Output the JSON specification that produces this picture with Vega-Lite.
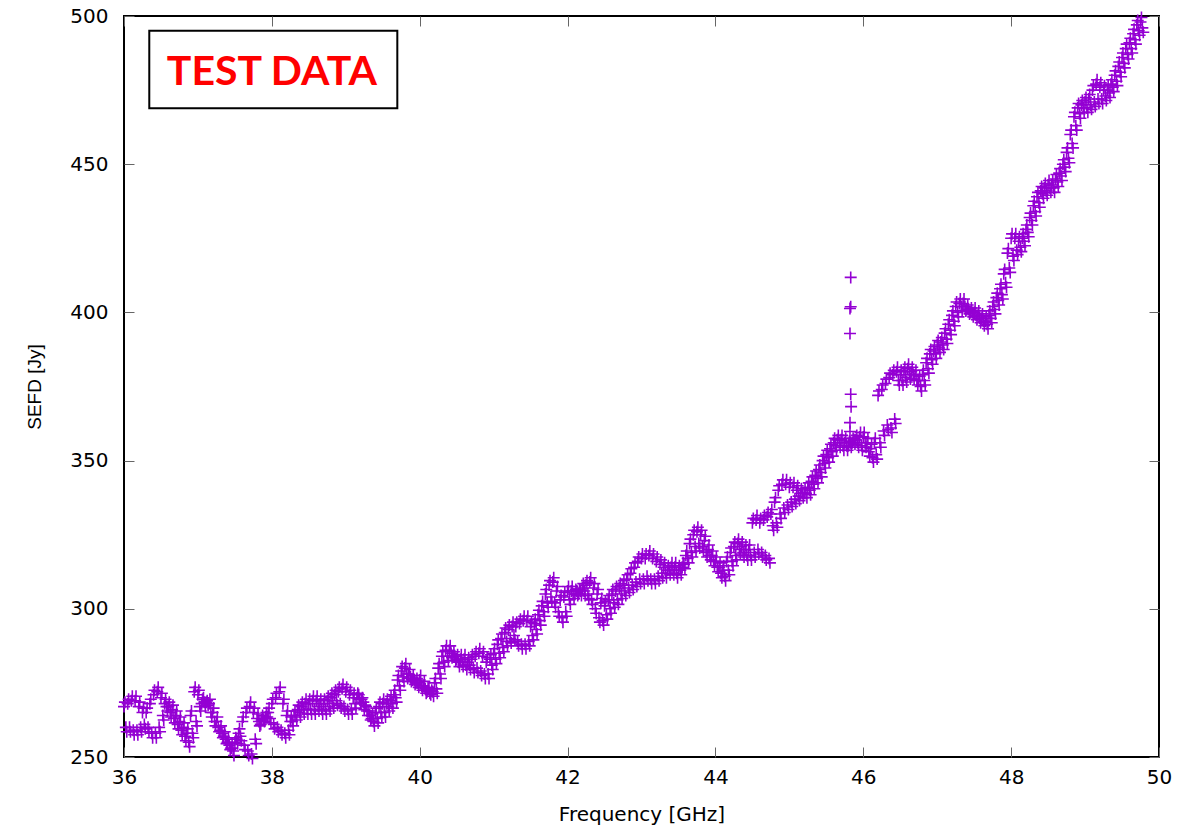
{
"$schema": "https://vega.github.io/schema/vega-lite/v6.json",
"width": 1035,
"height": 741,
"autosize": {"type": "none"},
"padding": {"left": 124, "top": 16, "right": 43, "bottom": 75},
"background": "white",
"config": {"view": {"stroke": "black", "strokeWidth": 2}, "font": "DejaVu Sans"},
"datasets": {
"pts": [
{"f":36.00,"s":267},{"f":36.05,"s":268},{"f":36.10,"s":269},{"f":36.15,"s":269},{"f":36.20,"s":267},{"f":36.25,"s":265},{"f":36.30,"s":265},{"f":36.35,"s":268},{"f":36.40,"s":271},{"f":36.45,"s":272},
{"f":36.50,"s":270},{"f":36.55,"s":268},{"f":36.60,"s":267},{"f":36.65,"s":266},{"f":36.70,"s":264},{"f":36.75,"s":262},{"f":36.80,"s":260},{"f":36.85,"s":258},{"f":36.90,"s":264},{"f":36.95,"s":272},
{"f":37.00,"s":271},{"f":37.05,"s":268},{"f":37.10,"s":267},{"f":37.15,"s":268},{"f":37.20,"s":265},{"f":37.25,"s":262},{"f":37.30,"s":259},{"f":37.35,"s":257},{"f":37.40,"s":255},{"f":37.45,"s":253},
{"f":37.50,"s":255},{"f":37.55,"s":258},{"f":37.60,"s":262},{"f":37.65,"s":265},{"f":37.70,"s":267},{"f":37.75,"s":265},{"f":37.80,"s":263},{"f":37.85,"s":261},{"f":37.90,"s":262},{"f":37.95,"s":265},
{"f":38.00,"s":268},{"f":38.05,"s":270},{"f":38.10,"s":272},{"f":38.15,"s":268},{"f":38.20,"s":264},{"f":38.25,"s":262},{"f":38.30,"s":264},{"f":38.35,"s":266},{"f":38.40,"s":267},{"f":38.45,"s":268},
{"f":38.50,"s":268},{"f":38.55,"s":269},{"f":38.60,"s":269},{"f":38.65,"s":268},{"f":38.70,"s":268},{"f":38.75,"s":269},{"f":38.80,"s":270},{"f":38.85,"s":271},{"f":38.90,"s":272},{"f":38.95,"s":273},
{"f":39.00,"s":272},{"f":39.05,"s":271},{"f":39.10,"s":270},{"f":39.15,"s":270},{"f":39.20,"s":268},{"f":39.25,"s":266},{"f":39.30,"s":264},{"f":39.35,"s":263},{"f":39.40,"s":265},{"f":39.45,"s":267},
{"f":39.50,"s":268},{"f":39.55,"s":268},{"f":39.60,"s":269},{"f":39.65,"s":271},{"f":39.70,"s":276},{"f":39.75,"s":279},{"f":39.80,"s":280},{"f":39.85,"s":278},{"f":39.90,"s":276},{"f":39.95,"s":275},
{"f":40.00,"s":276},{"f":40.05,"s":274},{"f":40.10,"s":272},{"f":40.15,"s":271},{"f":40.20,"s":275},{"f":40.25,"s":280},{"f":40.30,"s":284},{"f":40.35,"s":286},{"f":40.40,"s":286},{"f":40.45,"s":284},
{"f":40.50,"s":283},{"f":40.55,"s":283},{"f":40.60,"s":283},{"f":40.65,"s":282},{"f":40.70,"s":283},{"f":40.75,"s":284},{"f":40.80,"s":285},{"f":40.85,"s":284},{"f":40.90,"s":282},{"f":40.95,"s":283},
{"f":41.00,"s":285},{"f":41.05,"s":288},{"f":41.10,"s":290},{"f":41.15,"s":292},{"f":41.20,"s":293},{"f":41.25,"s":294},{"f":41.30,"s":294},{"f":41.35,"s":295},{"f":41.40,"s":296},{"f":41.45,"s":296},
{"f":41.50,"s":294},{"f":41.55,"s":295},{"f":41.60,"s":298},{"f":41.65,"s":301},{"f":41.70,"s":305},{"f":41.75,"s":308},{"f":41.80,"s":309},{"f":41.85,"s":306},{"f":41.90,"s":303},{"f":41.95,"s":304},
{"f":42.00,"s":306},{"f":42.05,"s":306},{"f":42.10,"s":305},{"f":42.15,"s":305},{"f":42.20,"s":307},{"f":42.25,"s":308},{"f":42.30,"s":309},{"f":42.35,"s":307},{"f":42.40,"s":305},{"f":42.45,"s":302},
{"f":42.50,"s":301},{"f":42.55,"s":303},{"f":42.60,"s":305},{"f":42.65,"s":306},{"f":42.70,"s":307},{"f":42.75,"s":308},{"f":42.80,"s":310},{"f":42.85,"s":312},{"f":42.90,"s":314},{"f":42.95,"s":316},
{"f":43.00,"s":317},{"f":43.05,"s":317},{"f":43.10,"s":318},{"f":43.15,"s":317},{"f":43.20,"s":316},{"f":43.25,"s":315},{"f":43.30,"s":314},{"f":43.35,"s":313},{"f":43.40,"s":314},{"f":43.45,"s":314},
{"f":43.50,"s":313},{"f":43.55,"s":314},{"f":43.60,"s":318},{"f":43.65,"s":322},{"f":43.70,"s":325},{"f":43.75,"s":326},{"f":43.80,"s":325},{"f":43.85,"s":323},{"f":43.90,"s":320},{"f":43.95,"s":318},
{"f":44.00,"s":316},{"f":44.05,"s":314},{"f":44.10,"s":313},{"f":44.15,"s":316},{"f":44.20,"s":319},{"f":44.25,"s":321},{"f":44.30,"s":322},{"f":44.35,"s":321},{"f":44.40,"s":320},{"f":44.45,"s":320},
{"f":44.50,"s":329},{"f":44.55,"s":330},{"f":44.60,"s":329},{"f":44.65,"s":330},{"f":44.70,"s":331},{"f":44.75,"s":332},{"f":44.80,"s":336},{"f":44.85,"s":340},{"f":44.90,"s":342},{"f":44.95,"s":342},
{"f":45.00,"s":341},{"f":45.05,"s":341},{"f":45.10,"s":340},{"f":45.15,"s":339},{"f":45.20,"s":339},{"f":45.25,"s":341},{"f":45.30,"s":343},{"f":45.35,"s":345},{"f":45.40,"s":347},{"f":45.45,"s":350},
{"f":45.50,"s":352},{"f":45.55,"s":354},{"f":45.60,"s":356},{"f":45.65,"s":357},{"f":45.70,"s":357},{"f":45.75,"s":356},{"f":45.80,"s":355},{"f":45.85,"s":356},{"f":45.90,"s":357},{"f":45.95,"s":358},
{"f":46.00,"s":358},{"f":46.05,"s":356},{"f":46.10,"s":354},{"f":46.15,"s":356},{"f":46.20,"s":372},{"f":46.25,"s":374},{"f":46.30,"s":376},{"f":46.35,"s":378},{"f":46.40,"s":379},{"f":46.45,"s":380},
{"f":46.50,"s":379},{"f":46.55,"s":380},{"f":46.60,"s":381},{"f":46.65,"s":380},{"f":46.70,"s":379},{"f":46.75,"s":377},{"f":46.80,"s":379},{"f":46.85,"s":383},{"f":46.90,"s":386},{"f":46.95,"s":387},
{"f":47.00,"s":389},{"f":47.05,"s":390},{"f":47.10,"s":393},{"f":47.15,"s":396},{"f":47.20,"s":399},{"f":47.25,"s":402},{"f":47.30,"s":403},{"f":47.35,"s":403},{"f":47.40,"s":401},{"f":47.45,"s":400},
{"f":47.50,"s":400},{"f":47.55,"s":399},{"f":47.60,"s":398},{"f":47.65,"s":397},{"f":47.70,"s":399},{"f":47.75,"s":402},{"f":47.80,"s":405},{"f":47.85,"s":408},{"f":47.90,"s":413},{"f":47.95,"s":420},
{"f":48.00,"s":425},{"f":48.05,"s":425},{"f":48.10,"s":424},{"f":48.15,"s":425},{"f":48.20,"s":428},{"f":48.25,"s":432},{"f":48.30,"s":436},{"f":48.35,"s":439},{"f":48.40,"s":441},{"f":48.45,"s":442},
{"f":48.50,"s":443},{"f":48.55,"s":443},{"f":48.60,"s":445},{"f":48.65,"s":447},{"f":48.70,"s":450},{"f":48.75,"s":454},{"f":48.80,"s":460},{"f":48.85,"s":466},{"f":48.90,"s":469},{"f":48.95,"s":470},
{"f":49.00,"s":471},{"f":49.05,"s":472},{"f":49.10,"s":475},{"f":49.15,"s":477},{"f":49.20,"s":476},{"f":49.25,"s":475},{"f":49.30,"s":475},{"f":49.35,"s":477},{"f":49.40,"s":480},{"f":49.45,"s":483},
{"f":49.50,"s":486},{"f":49.55,"s":489},{"f":49.60,"s":491},{"f":49.65,"s":494},{"f":49.70,"s":497},{"f":49.75,"s":498},
{"f":36.025,"s":260},{"f":36.075,"s":260},{"f":36.125,"s":259},{"f":36.175,"s":259},{"f":36.225,"s":260},{"f":36.275,"s":261},{"f":36.325,"s":260},{"f":36.375,"s":258},{"f":36.425,"s":258},{"f":36.475,"s":260},
{"f":36.525,"s":264},{"f":36.575,"s":267},{"f":36.625,"s":265},{"f":36.675,"s":263},{"f":36.725,"s":261},{"f":36.775,"s":259},{"f":36.825,"s":257},{"f":36.875,"s":255},{"f":36.925,"s":258},{"f":36.975,"s":262},
{"f":37.025,"s":267},{"f":37.075,"s":270},{"f":37.125,"s":269},{"f":37.175,"s":265},{"f":37.225,"s":262},{"f":37.275,"s":260},{"f":37.325,"s":258},{"f":37.375,"s":256},{"f":37.425,"s":254},{"f":37.475,"s":252},
{"f":37.525,"s":256},{"f":37.575,"s":257},{"f":37.625,"s":254},{"f":37.675,"s":252},{"f":37.725,"s":251},{"f":37.775,"s":256},{"f":37.825,"s":262},{"f":37.875,"s":264},{"f":37.925,"s":265},{"f":37.975,"s":263},
{"f":38.025,"s":261},{"f":38.075,"s":260},{"f":38.125,"s":259},{"f":38.175,"s":258},{"f":38.225,"s":259},{"f":38.275,"s":262},{"f":38.325,"s":264},{"f":38.375,"s":265},{"f":38.425,"s":266},{"f":38.475,"s":266},
{"f":38.525,"s":266},{"f":38.575,"s":266},{"f":38.625,"s":267},{"f":38.675,"s":266},{"f":38.725,"s":266},{"f":38.775,"s":267},{"f":38.825,"s":268},{"f":38.875,"s":269},{"f":38.925,"s":268},{"f":38.975,"s":267},
{"f":39.025,"s":266},{"f":39.075,"s":266},{"f":39.125,"s":268},{"f":39.175,"s":271},{"f":39.225,"s":270},{"f":39.275,"s":267},{"f":39.325,"s":264},{"f":39.375,"s":262},{"f":39.425,"s":263},{"f":39.475,"s":265},
{"f":39.525,"s":265},{"f":39.575,"s":267},{"f":39.625,"s":268},{"f":39.675,"s":270},{"f":39.725,"s":274},{"f":39.775,"s":277},{"f":39.825,"s":278},{"f":39.875,"s":277},{"f":39.925,"s":276},{"f":39.975,"s":275},
{"f":40.025,"s":274},{"f":40.075,"s":273},{"f":40.125,"s":273},{"f":40.175,"s":272},{"f":40.225,"s":273},{"f":40.275,"s":278},{"f":40.325,"s":282},{"f":40.375,"s":284},{"f":40.425,"s":285},{"f":40.475,"s":284},
{"f":40.525,"s":282},{"f":40.575,"s":282},{"f":40.625,"s":281},{"f":40.675,"s":281},{"f":40.725,"s":280},{"f":40.775,"s":280},{"f":40.825,"s":279},{"f":40.875,"s":278},{"f":40.925,"s":278},{"f":40.975,"s":281},
{"f":41.025,"s":283},{"f":41.075,"s":285},{"f":41.125,"s":287},{"f":41.175,"s":289},{"f":41.225,"s":290},{"f":41.275,"s":291},{"f":41.325,"s":289},{"f":41.375,"s":288},{"f":41.425,"s":288},{"f":41.475,"s":289},
{"f":41.525,"s":291},{"f":41.575,"s":293},{"f":41.625,"s":296},{"f":41.675,"s":299},{"f":41.725,"s":302},{"f":41.775,"s":304},{"f":41.825,"s":302},{"f":41.875,"s":299},{"f":41.925,"s":297},{"f":41.975,"s":299},
{"f":42.025,"s":303},{"f":42.075,"s":305},{"f":42.125,"s":306},{"f":42.175,"s":306},{"f":42.225,"s":306},{"f":42.275,"s":305},{"f":42.325,"s":303},{"f":42.375,"s":300},{"f":42.425,"s":297},{"f":42.475,"s":296},
{"f":42.525,"s":298},{"f":42.575,"s":300},{"f":42.625,"s":302},{"f":42.675,"s":303},{"f":42.725,"s":305},{"f":42.775,"s":306},{"f":42.825,"s":307},{"f":42.875,"s":308},{"f":42.925,"s":309},{"f":42.975,"s":310},
{"f":43.025,"s":310},{"f":43.075,"s":311},{"f":43.125,"s":310},{"f":43.175,"s":310},{"f":43.225,"s":311},{"f":43.275,"s":312},{"f":43.325,"s":312},{"f":43.375,"s":313},{"f":43.425,"s":313},{"f":43.475,"s":312},
{"f":43.525,"s":313},{"f":43.575,"s":315},{"f":43.625,"s":317},{"f":43.675,"s":319},{"f":43.725,"s":321},{"f":43.775,"s":322},{"f":43.825,"s":321},{"f":43.875,"s":319},{"f":43.925,"s":318},{"f":43.975,"s":316},
{"f":44.025,"s":314},{"f":44.075,"s":312},{"f":44.125,"s":311},{"f":44.175,"s":313},{"f":44.225,"s":316},{"f":44.275,"s":318},{"f":44.325,"s":320},{"f":44.375,"s":319},{"f":44.425,"s":318},{"f":44.475,"s":318},
{"f":44.525,"s":319},{"f":44.575,"s":320},{"f":44.625,"s":319},{"f":44.675,"s":318},{"f":44.725,"s":317},{"f":44.775,"s":328},{"f":44.825,"s":329},{"f":44.875,"s":332},{"f":44.925,"s":334},{"f":44.975,"s":335},
{"f":45.025,"s":336},{"f":45.075,"s":337},{"f":45.125,"s":338},{"f":45.175,"s":339},{"f":45.225,"s":339},{"f":45.275,"s":340},{"f":45.325,"s":342},{"f":45.375,"s":344},{"f":45.425,"s":346},{"f":45.475,"s":349},
{"f":45.525,"s":351},{"f":45.575,"s":353},{"f":45.625,"s":355},{"f":45.675,"s":356},{"f":45.725,"s":355},{"f":45.775,"s":355},{"f":45.825,"s":356},{"f":45.875,"s":357},{"f":45.925,"s":356},{"f":45.975,"s":355},
{"f":46.025,"s":356},{"f":46.075,"s":353},{"f":46.125,"s":351},{"f":46.175,"s":352},{"f":46.225,"s":356},{"f":46.275,"s":360},{"f":46.325,"s":362},{"f":46.375,"s":361},{"f":46.425,"s":364},{"f":46.475,"s":377},
{"f":46.525,"s":377},{"f":46.575,"s":378},{"f":46.625,"s":379},{"f":46.675,"s":379},{"f":46.725,"s":377},{"f":46.775,"s":375},{"f":46.825,"s":377},{"f":46.875,"s":381},{"f":46.925,"s":384},{"f":46.975,"s":386},
{"f":47.025,"s":388},{"f":47.075,"s":389},{"f":47.125,"s":391},{"f":47.175,"s":394},{"f":47.225,"s":397},{"f":47.275,"s":400},{"f":47.325,"s":402},{"f":47.375,"s":402},{"f":47.425,"s":401},{"f":47.475,"s":400},
{"f":47.525,"s":399},{"f":47.575,"s":398},{"f":47.625,"s":397},{"f":47.675,"s":396},{"f":47.725,"s":398},{"f":47.775,"s":401},{"f":47.825,"s":404},{"f":47.875,"s":406},{"f":47.925,"s":410},{"f":47.975,"s":415},
{"f":48.025,"s":419},{"f":48.075,"s":421},{"f":48.125,"s":422},{"f":48.175,"s":424},{"f":48.225,"s":427},{"f":48.275,"s":431},{"f":48.325,"s":434},{"f":48.375,"s":437},{"f":48.425,"s":440},{"f":48.475,"s":441},
{"f":48.525,"s":442},{"f":48.575,"s":442},{"f":48.625,"s":444},{"f":48.675,"s":446},{"f":48.725,"s":449},{"f":48.775,"s":452},{"f":48.825,"s":457},{"f":48.875,"s":463},{"f":48.925,"s":467},{"f":48.975,"s":469},
{"f":49.025,"s":469},{"f":49.075,"s":470},{"f":49.125,"s":471},{"f":49.175,"s":472},{"f":49.225,"s":472},{"f":49.275,"s":473},{"f":49.325,"s":474},{"f":49.375,"s":476},{"f":49.425,"s":478},{"f":49.475,"s":481},
{"f":49.525,"s":484},{"f":49.575,"s":487},{"f":49.625,"s":489},{"f":49.675,"s":492},{"f":49.725,"s":495},{"f":49.775,"s":496},
{"f":36.0125,"s":268.5},{"f":36.0625,"s":269.5},{"f":36.1125,"s":270.5},{"f":36.1625,"s":270.5},{"f":36.2125,"s":268.5},{"f":36.2625,"s":266.5},{"f":36.3125,"s":266.5},{"f":36.3625,"s":269.5},{"f":36.4125,"s":272.5},{"f":36.4625,"s":273.5},
{"f":36.5125,"s":271.5},{"f":36.5625,"s":269.5},{"f":36.6125,"s":268.5},{"f":36.6625,"s":267.5},{"f":36.7125,"s":265.5},{"f":36.7625,"s":263.5},{"f":36.8125,"s":261.5},{"f":36.8625,"s":259.5},{"f":36.9125,"s":265.5},{"f":36.9625,"s":273.5},
{"f":37.0125,"s":272.5},{"f":37.0625,"s":269.5},{"f":37.1125,"s":268.5},{"f":37.1625,"s":269.5},{"f":37.2125,"s":266.5},{"f":37.2625,"s":263.5},{"f":37.3125,"s":260.5},{"f":37.3625,"s":258.5},{"f":37.4125,"s":256.5},{"f":37.4625,"s":254.5},
{"f":37.5125,"s":256.5},{"f":37.5625,"s":259.5},{"f":37.6125,"s":263.5},{"f":37.6625,"s":266.5},{"f":37.7125,"s":268.5},{"f":37.7625,"s":266.5},{"f":37.8125,"s":264.5},{"f":37.8625,"s":262.5},{"f":37.9125,"s":263.5},{"f":37.9625,"s":266.5},
{"f":38.0125,"s":269.5},{"f":38.0625,"s":271.5},{"f":38.1125,"s":273.5},{"f":38.1625,"s":269.5},{"f":38.2125,"s":265.5},{"f":38.2625,"s":263.5},{"f":38.3125,"s":265.5},{"f":38.3625,"s":267.5},{"f":38.4125,"s":268.5},{"f":38.4625,"s":269.5},
{"f":38.5125,"s":269.5},{"f":38.5625,"s":270.5},{"f":38.6125,"s":270.5},{"f":38.6625,"s":269.5},{"f":38.7125,"s":269.5},{"f":38.7625,"s":270.5},{"f":38.8125,"s":271.5},{"f":38.8625,"s":272.5},{"f":38.9125,"s":273.5},{"f":38.9625,"s":274.5},
{"f":39.0125,"s":273.5},{"f":39.0625,"s":272.5},{"f":39.1125,"s":271.5},{"f":39.1625,"s":271.5},{"f":39.2125,"s":269.5},{"f":39.2625,"s":267.5},{"f":39.3125,"s":265.5},{"f":39.3625,"s":264.5},{"f":39.4125,"s":266.5},{"f":39.4625,"s":268.5},
{"f":39.5125,"s":269.5},{"f":39.5625,"s":269.5},{"f":39.6125,"s":270.5},{"f":39.6625,"s":272.5},{"f":39.7125,"s":277.5},{"f":39.7625,"s":280.5},{"f":39.8125,"s":281.5},{"f":39.8625,"s":279.5},{"f":39.9125,"s":277.5},{"f":39.9625,"s":276.5},
{"f":40.0125,"s":277.5},{"f":40.0625,"s":275.5},{"f":40.1125,"s":273.5},{"f":40.1625,"s":272.5},{"f":40.2125,"s":276.5},{"f":40.2625,"s":281.5},{"f":40.3125,"s":285.5},{"f":40.3625,"s":287.5},{"f":40.4125,"s":287.5},{"f":40.4625,"s":285.5},
{"f":40.5125,"s":284.5},{"f":40.5625,"s":284.5},{"f":40.6125,"s":284.5},{"f":40.6625,"s":283.5},{"f":40.7125,"s":284.5},{"f":40.7625,"s":285.5},{"f":40.8125,"s":286.5},{"f":40.8625,"s":285.5},{"f":40.9125,"s":283.5},{"f":40.9625,"s":284.5},
{"f":41.0125,"s":286.5},{"f":41.0625,"s":289.5},{"f":41.1125,"s":291.5},{"f":41.1625,"s":293.5},{"f":41.2125,"s":294.5},{"f":41.2625,"s":295.5},{"f":41.3125,"s":295.5},{"f":41.3625,"s":296.5},{"f":41.4125,"s":297.5},{"f":41.4625,"s":297.5},
{"f":41.5125,"s":295.5},{"f":41.5625,"s":296.5},{"f":41.6125,"s":299.5},{"f":41.6625,"s":302.5},{"f":41.7125,"s":306.5},{"f":41.7625,"s":309.5},{"f":41.8125,"s":310.5},{"f":41.8625,"s":307.5},{"f":41.9125,"s":304.5},{"f":41.9625,"s":305.5},
{"f":42.0125,"s":307.5},{"f":42.0625,"s":307.5},{"f":42.1125,"s":306.5},{"f":42.1625,"s":306.5},{"f":42.2125,"s":308.5},{"f":42.2625,"s":309.5},{"f":42.3125,"s":310.5},{"f":42.3625,"s":308.5},{"f":42.4125,"s":306.5},{"f":42.4625,"s":303.5},
{"f":42.5125,"s":302.5},{"f":42.5625,"s":304.5},{"f":42.6125,"s":306.5},{"f":42.6625,"s":307.5},{"f":42.7125,"s":308.5},{"f":42.7625,"s":309.5},{"f":42.8125,"s":311.5},{"f":42.8625,"s":313.5},{"f":42.9125,"s":315.5},{"f":42.9625,"s":317.5},
{"f":43.0125,"s":318.5},{"f":43.0625,"s":318.5},{"f":43.1125,"s":319.5},{"f":43.1625,"s":318.5},{"f":43.2125,"s":317.5},{"f":43.2625,"s":316.5},{"f":43.3125,"s":315.5},{"f":43.3625,"s":314.5},{"f":43.4125,"s":315.5},{"f":43.4625,"s":315.5},
{"f":43.5125,"s":314.5},{"f":43.5625,"s":315.5},{"f":43.6125,"s":319.5},{"f":43.6625,"s":323.5},{"f":43.7125,"s":326.5},{"f":43.7625,"s":327.5},{"f":43.8125,"s":326.5},{"f":43.8625,"s":324.5},{"f":43.9125,"s":321.5},{"f":43.9625,"s":319.5},
{"f":44.0125,"s":317.5},{"f":44.0625,"s":315.5},{"f":44.1125,"s":314.5},{"f":44.1625,"s":317.5},{"f":44.2125,"s":320.5},{"f":44.2625,"s":322.5},{"f":44.3125,"s":323.5},{"f":44.3625,"s":322.5},{"f":44.4125,"s":321.5},{"f":44.4625,"s":321.5},
{"f":44.5125,"s":330.5},{"f":44.5625,"s":331.5},{"f":44.6125,"s":330.5},{"f":44.6625,"s":331.5},{"f":44.7125,"s":332.5},{"f":44.7625,"s":333.5},{"f":44.8125,"s":337.5},{"f":44.8625,"s":341.5},{"f":44.9125,"s":343.5},{"f":44.9625,"s":343.5},
{"f":45.0125,"s":342.5},{"f":45.0625,"s":342.5},{"f":45.1125,"s":341.5},{"f":45.1625,"s":340.5},{"f":45.2125,"s":340.5},{"f":45.2625,"s":342.5},{"f":45.3125,"s":344.5},{"f":45.3625,"s":346.5},{"f":45.4125,"s":348.5},{"f":45.4625,"s":351.5},
{"f":45.5125,"s":353.5},{"f":45.5625,"s":355.5},{"f":45.6125,"s":357.5},{"f":45.6625,"s":358.5},{"f":45.7125,"s":358.5},{"f":45.7625,"s":357.5},{"f":45.8125,"s":356.5},{"f":45.8625,"s":357.5},{"f":45.9125,"s":358.5},{"f":45.9625,"s":359.5},
{"f":46.0125,"s":359.5},{"f":46.0625,"s":357.5},{"f":46.1125,"s":355.5},{"f":46.1625,"s":357.5},{"f":46.2125,"s":373.5},{"f":46.2625,"s":375.5},{"f":46.3125,"s":377.5},{"f":46.3625,"s":379.5},{"f":46.4125,"s":380.5},{"f":46.4625,"s":381.5},
{"f":46.5125,"s":380.5},{"f":46.5625,"s":381.5},{"f":46.6125,"s":382.5},{"f":46.6625,"s":381.5},{"f":46.7125,"s":380.5},{"f":46.7625,"s":378.5},{"f":46.8125,"s":380.5},{"f":46.8625,"s":384.5},{"f":46.9125,"s":387.5},{"f":46.9625,"s":388.5},
{"f":47.0125,"s":390.5},{"f":47.0625,"s":391.5},{"f":47.1125,"s":394.5},{"f":47.1625,"s":397.5},{"f":47.2125,"s":400.5},{"f":47.2625,"s":403.5},{"f":47.3125,"s":404.5},{"f":47.3625,"s":404.5},{"f":47.4125,"s":402.5},{"f":47.4625,"s":401.5},
{"f":47.5125,"s":401.5},{"f":47.5625,"s":400.5},{"f":47.6125,"s":399.5},{"f":47.6625,"s":398.5},{"f":47.7125,"s":400.5},{"f":47.7625,"s":403.5},{"f":47.8125,"s":406.5},{"f":47.8625,"s":409.5},{"f":47.9125,"s":414.5},{"f":47.9625,"s":421.5},
{"f":48.0125,"s":426.5},{"f":48.0625,"s":426.5},{"f":48.1125,"s":425.5},{"f":48.1625,"s":426.5},{"f":48.2125,"s":429.5},{"f":48.2625,"s":433.5},{"f":48.3125,"s":437.5},{"f":48.3625,"s":440.5},{"f":48.4125,"s":442.5},{"f":48.4625,"s":443.5},
{"f":48.5125,"s":444.5},{"f":48.5625,"s":444.5},{"f":48.6125,"s":446.5},{"f":48.6625,"s":448.5},{"f":48.7125,"s":451.5},{"f":48.7625,"s":455.5},{"f":48.8125,"s":461.5},{"f":48.8625,"s":467.5},{"f":48.9125,"s":470.5},{"f":48.9625,"s":471.5},
{"f":49.0125,"s":472.5},{"f":49.0625,"s":473.5},{"f":49.1125,"s":476.5},{"f":49.1625,"s":478.5},{"f":49.2125,"s":477.5},{"f":49.2625,"s":476.5},{"f":49.3125,"s":476.5},{"f":49.3625,"s":478.5},{"f":49.4125,"s":481.5},{"f":49.4625,"s":484.5},
{"f":49.5125,"s":487.5},{"f":49.5625,"s":490.5},{"f":49.6125,"s":492.5},{"f":49.6625,"s":495.5},{"f":49.7125,"s":498.5},{"f":49.7625,"s":499.5},
{"f":36.0375,"s":258.5},{"f":36.0875,"s":258.5},{"f":36.1375,"s":257.5},{"f":36.1875,"s":257.5},{"f":36.2375,"s":258.5},{"f":36.2875,"s":259.5},{"f":36.3375,"s":258.5},{"f":36.3875,"s":256.5},{"f":36.4375,"s":256.5},{"f":36.4875,"s":258.5},
{"f":36.5375,"s":262.5},{"f":36.5875,"s":265.5},{"f":36.6375,"s":263.5},{"f":36.6875,"s":261.5},{"f":36.7375,"s":259.5},{"f":36.7875,"s":257.5},{"f":36.8375,"s":255.5},{"f":36.8875,"s":253.5},{"f":36.9375,"s":256.5},{"f":36.9875,"s":260.5},
{"f":37.0375,"s":265.5},{"f":37.0875,"s":268.5},{"f":37.1375,"s":267.5},{"f":37.1875,"s":263.5},{"f":37.2375,"s":260.5},{"f":37.2875,"s":258.5},{"f":37.3375,"s":256.5},{"f":37.3875,"s":254.5},{"f":37.4375,"s":252.5},{"f":37.4875,"s":250.5},
{"f":37.5375,"s":254.5},{"f":37.5875,"s":255.5},{"f":37.6375,"s":252.5},{"f":37.6875,"s":250.5},{"f":37.7375,"s":249.5},{"f":37.7875,"s":254.5},{"f":37.8375,"s":260.5},{"f":37.8875,"s":262.5},{"f":37.9375,"s":263.5},{"f":37.9875,"s":261.5},
{"f":38.0375,"s":259.5},{"f":38.0875,"s":258.5},{"f":38.1375,"s":257.5},{"f":38.1875,"s":256.5},{"f":38.2375,"s":257.5},{"f":38.2875,"s":260.5},{"f":38.3375,"s":262.5},{"f":38.3875,"s":263.5},{"f":38.4375,"s":264.5},{"f":38.4875,"s":264.5},
{"f":38.5375,"s":264.5},{"f":38.5875,"s":264.5},{"f":38.6375,"s":265.5},{"f":38.6875,"s":264.5},{"f":38.7375,"s":264.5},{"f":38.7875,"s":265.5},{"f":38.8375,"s":266.5},{"f":38.8875,"s":267.5},{"f":38.9375,"s":266.5},{"f":38.9875,"s":265.5},
{"f":39.0375,"s":264.5},{"f":39.0875,"s":264.5},{"f":39.1375,"s":266.5},{"f":39.1875,"s":269.5},{"f":39.2375,"s":268.5},{"f":39.2875,"s":265.5},{"f":39.3375,"s":262.5},{"f":39.3875,"s":260.5},{"f":39.4375,"s":261.5},{"f":39.4875,"s":263.5},
{"f":39.5375,"s":263.5},{"f":39.5875,"s":265.5},{"f":39.6375,"s":266.5},{"f":39.6875,"s":268.5},{"f":39.7375,"s":272.5},{"f":39.7875,"s":275.5},{"f":39.8375,"s":276.5},{"f":39.8875,"s":275.5},{"f":39.9375,"s":274.5},{"f":39.9875,"s":273.5},
{"f":40.0375,"s":272.5},{"f":40.0875,"s":271.5},{"f":40.1375,"s":271.5},{"f":40.1875,"s":270.5},{"f":40.2375,"s":271.5},{"f":40.2875,"s":276.5},{"f":40.3375,"s":280.5},{"f":40.3875,"s":282.5},{"f":40.4375,"s":283.5},{"f":40.4875,"s":282.5},
{"f":40.5375,"s":280.5},{"f":40.5875,"s":280.5},{"f":40.6375,"s":279.5},{"f":40.6875,"s":279.5},{"f":40.7375,"s":278.5},{"f":40.7875,"s":278.5},{"f":40.8375,"s":277.5},{"f":40.8875,"s":276.5},{"f":40.9375,"s":276.5},{"f":40.9875,"s":279.5},
{"f":41.0375,"s":281.5},{"f":41.0875,"s":283.5},{"f":41.1375,"s":285.5},{"f":41.1875,"s":287.5},{"f":41.2375,"s":288.5},{"f":41.2875,"s":289.5},{"f":41.3375,"s":287.5},{"f":41.3875,"s":286.5},{"f":41.4375,"s":286.5},{"f":41.4875,"s":287.5},
{"f":41.5375,"s":289.5},{"f":41.5875,"s":291.5},{"f":41.6375,"s":294.5},{"f":41.6875,"s":297.5},{"f":41.7375,"s":300.5},{"f":41.7875,"s":302.5},{"f":41.8375,"s":300.5},{"f":41.8875,"s":297.5},{"f":41.9375,"s":295.5},{"f":41.9875,"s":297.5},
{"f":42.0375,"s":301.5},{"f":42.0875,"s":303.5},{"f":42.1375,"s":304.5},{"f":42.1875,"s":304.5},{"f":42.2375,"s":304.5},{"f":42.2875,"s":303.5},{"f":42.3375,"s":301.5},{"f":42.3875,"s":298.5},{"f":42.4375,"s":295.5},{"f":42.4875,"s":294.5},
{"f":42.5375,"s":296.5},{"f":42.5875,"s":298.5},{"f":42.6375,"s":300.5},{"f":42.6875,"s":301.5},{"f":42.7375,"s":303.5},{"f":42.7875,"s":304.5},{"f":42.8375,"s":305.5},{"f":42.8875,"s":306.5},{"f":42.9375,"s":307.5},{"f":42.9875,"s":308.5},
{"f":43.0375,"s":308.5},{"f":43.0875,"s":309.5},{"f":43.1375,"s":308.5},{"f":43.1875,"s":308.5},{"f":43.2375,"s":309.5},{"f":43.2875,"s":310.5},{"f":43.3375,"s":310.5},{"f":43.3875,"s":311.5},{"f":43.4375,"s":311.5},{"f":43.4875,"s":310.5},
{"f":43.5375,"s":311.5},{"f":43.5875,"s":313.5},{"f":43.6375,"s":315.5},{"f":43.6875,"s":317.5},{"f":43.7375,"s":319.5},{"f":43.7875,"s":320.5},{"f":43.8375,"s":319.5},{"f":43.8875,"s":317.5},{"f":43.9375,"s":316.5},{"f":43.9875,"s":314.5},
{"f":44.0375,"s":312.5},{"f":44.0875,"s":310.5},{"f":44.1375,"s":309.5},{"f":44.1875,"s":311.5},{"f":44.2375,"s":314.5},{"f":44.2875,"s":316.5},{"f":44.3375,"s":318.5},{"f":44.3875,"s":317.5},{"f":44.4375,"s":316.5},{"f":44.4875,"s":316.5},
{"f":44.5375,"s":317.5},{"f":44.5875,"s":318.5},{"f":44.6375,"s":317.5},{"f":44.6875,"s":316.5},{"f":44.7375,"s":315.5},{"f":44.7875,"s":326.5},{"f":44.8375,"s":327.5},{"f":44.8875,"s":330.5},{"f":44.9375,"s":332.5},{"f":44.9875,"s":333.5},
{"f":45.0375,"s":334.5},{"f":45.0875,"s":335.5},{"f":45.1375,"s":336.5},{"f":45.1875,"s":337.5},{"f":45.2375,"s":337.5},{"f":45.2875,"s":338.5},{"f":45.3375,"s":340.5},{"f":45.3875,"s":342.5},{"f":45.4375,"s":344.5},{"f":45.4875,"s":347.5},
{"f":45.5375,"s":349.5},{"f":45.5875,"s":351.5},{"f":45.6375,"s":353.5},{"f":45.6875,"s":354.5},{"f":45.7375,"s":353.5},{"f":45.7875,"s":353.5},{"f":45.8375,"s":354.5},{"f":45.8875,"s":355.5},{"f":45.9375,"s":354.5},{"f":45.9875,"s":353.5},
{"f":46.0375,"s":354.5},{"f":46.0875,"s":351.5},{"f":46.1375,"s":349.5},{"f":46.1875,"s":350.5},{"f":46.2375,"s":354.5},{"f":46.2875,"s":358.5},{"f":46.3375,"s":360.5},{"f":46.3875,"s":359.5},{"f":46.4375,"s":362.5},{"f":46.4875,"s":375.5},
{"f":46.5375,"s":375.5},{"f":46.5875,"s":376.5},{"f":46.6375,"s":377.5},{"f":46.6875,"s":377.5},{"f":46.7375,"s":375.5},{"f":46.7875,"s":373.5},{"f":46.8375,"s":375.5},{"f":46.8875,"s":379.5},{"f":46.9375,"s":382.5},{"f":46.9875,"s":384.5},
{"f":47.0375,"s":386.5},{"f":47.0875,"s":387.5},{"f":47.1375,"s":389.5},{"f":47.1875,"s":392.5},{"f":47.2375,"s":395.5},{"f":47.2875,"s":398.5},{"f":47.3375,"s":400.5},{"f":47.3875,"s":400.5},{"f":47.4375,"s":399.5},{"f":47.4875,"s":398.5},
{"f":47.5375,"s":397.5},{"f":47.5875,"s":396.5},{"f":47.6375,"s":395.5},{"f":47.6875,"s":394.5},{"f":47.7375,"s":396.5},{"f":47.7875,"s":399.5},{"f":47.8375,"s":402.5},{"f":47.8875,"s":404.5},{"f":47.9375,"s":408.5},{"f":47.9875,"s":413.5},
{"f":48.0375,"s":417.5},{"f":48.0875,"s":419.5},{"f":48.1375,"s":420.5},{"f":48.1875,"s":422.5},{"f":48.2375,"s":425.5},{"f":48.2875,"s":429.5},{"f":48.3375,"s":432.5},{"f":48.3875,"s":435.5},{"f":48.4375,"s":438.5},{"f":48.4875,"s":439.5},
{"f":48.5375,"s":440.5},{"f":48.5875,"s":440.5},{"f":48.6375,"s":442.5},{"f":48.6875,"s":444.5},{"f":48.7375,"s":447.5},{"f":48.7875,"s":450.5},{"f":48.8375,"s":455.5},{"f":48.8875,"s":461.5},{"f":48.9375,"s":465.5},{"f":48.9875,"s":467.5},
{"f":49.0375,"s":467.5},{"f":49.0875,"s":468.5},{"f":49.1375,"s":469.5},{"f":49.1875,"s":470.5},{"f":49.2375,"s":470.5},{"f":49.2875,"s":471.5},{"f":49.3375,"s":472.5},{"f":49.3875,"s":474.5},{"f":49.4375,"s":476.5},{"f":49.4875,"s":479.5},
{"f":49.5375,"s":482.5},{"f":49.5875,"s":485.5},{"f":49.6375,"s":487.5},{"f":49.6875,"s":490.5},{"f":49.7375,"s":493.5},{"f":49.7875,"s":494.5},
{"f":45.83,"s":411.8},{"f":45.82,"s":401.3},{"f":45.83,"s":401.9},{"f":45.82,"s":392.9},{"f":45.83,"s":372.4},{"f":45.835,"s":368.2},{"f":45.82,"s":362.8},{"f":45.82,"s":359.8}
],
"note": [{"x1":36.342,"x2":39.697,"y1":495.04,"y2":468.86,"tx":38.0,"ty":476.7,"label":"TEST DATA"}]
},
"layer": [
{
"data": {"name": "pts"},
"mark": {"type": "point", "shape": "M-1,0H1M0,-1V1", "size": 144, "filled": false, "color": "#9400D3", "strokeWidth": 1.6, "opacity": 1},
"encoding": {
"x": {"field": "f", "type": "quantitative", "scale": {"domain": [36, 50], "nice": false, "zero": false},
"axis": {"orient": "bottom", "values": [36,38,40,42,44,46,48,50], "tickSize": -10, "tickColor": "#666666", "tickWidth": 1, "domain": false, "grid": false, "labelFont": "DejaVu Sans", "labelFontSize": 20, "labelColor": "black", "labelPadding": 20, "labelFlush": false, "title": "Frequency [GHz]", "titleFont": "DejaVu Sans", "titleFontSize": 20, "titleFontWeight": "normal", "titleColor": "black", "titlePadding": 17}},
"y": {"field": "s", "type": "quantitative", "scale": {"domain": [250, 500], "nice": false, "zero": false},
"axis": {"orient": "left", "values": [250,300,350,400,450,500], "tickSize": -10, "tickColor": "#666666", "tickWidth": 1, "domain": false, "grid": false, "labelFont": "DejaVu Sans", "labelFontSize": 20, "labelColor": "black", "labelPadding": 26, "labelFlush": false, "title": "SEFD [Jy]", "titleFont": "Liberation Sans", "titleFontSize": 19, "titleFontWeight": "normal", "titleColor": "black", "titlePadding": 25}}
}
},
{
"data": {"name": "note"},
"mark": {"type": "rect", "fill": "white", "stroke": "black", "strokeWidth": 2},
"encoding": {
"x": {"field": "x1", "type": "quantitative", "scale": {"domain": [36, 50], "nice": false, "zero": false},
"axis": {"orient": "top", "values": [36,38,40,42,44,46,48,50], "tickSize": -10, "tickColor": "#666666", "tickWidth": 1, "domain": false, "grid": false, "labels": false, "title": null}},
"x2": {"field": "x2"},
"y": {"field": "y1", "type": "quantitative", "scale": {"domain": [250, 500], "nice": false, "zero": false},
"axis": {"orient": "right", "values": [250,300,350,400,450,500], "tickSize": -10, "tickColor": "#666666", "tickWidth": 1, "domain": false, "grid": false, "labels": false, "title": null}},
"y2": {"field": "y2"}
}
},
{
"data": {"name": "note"},
"mark": {"type": "text", "font": "Lato", "fontWeight": "bold", "fontSize": 41, "color": "#FF0000", "align": "center", "baseline": "alphabetic"},
"encoding": {
"x": {"field": "tx", "type": "quantitative", "axis": null},
"y": {"field": "ty", "type": "quantitative", "axis": null},
"text": {"field": "label"}
}
}
],
"resolve": {"axis": {"x": "independent", "y": "independent"}}
}
